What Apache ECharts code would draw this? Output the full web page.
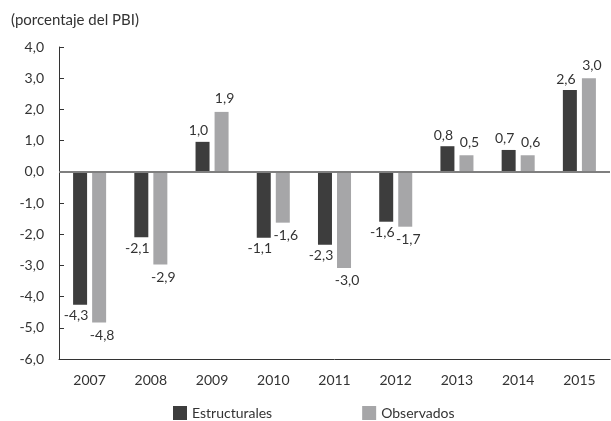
<!DOCTYPE html>
<html><head><meta charset="utf-8">
<script src="https://cdn.jsdelivr.net/npm/echarts@6/dist/echarts.min.js"></script>
<style>html,body{margin:0;padding:0;background:#fff}#c{width:611px;height:421px}</style>
</head><body><div id="c"></div>
<script>
const categories = ['2007','2008','2009','2010','2011','2012','2013','2014','2015'];
const estructurales = [-4.26,-2.1,0.96,-2.11,-2.34,-1.6,0.82,0.7,2.62];
const observados = [-4.83,-2.97,1.92,-1.63,-3.08,-1.76,0.53,0.53,3.0];
const estructuralesLabels = ['-4,3','-2,1','1,0','-1,1','-2,3','-1,6','0,8','0,7','2,6'];
const observadosLabels = ['-4,8','-2,9','1,9','-1,6','-3,0','-1,7','0,5','0,6','3,0'];
const yMin = -6, yMax = 4, yStep = 1;

const font = 'Lato';
const chart = echarts.init(document.getElementById('c'));
function lbl(arr, off, dist){
  return {
    show: true, position: 'outside', fontFamily: font, fontSize: 14, color: '#333',
    distance: dist, offset: off,
    formatter: p => arr[p.dataIndex]
  };
}
chart.setOption({
  animation: false,
  textStyle: {fontFamily: font},
  title: {text: '(porcentaje del PBI)', left: 6, top: 8,
    textStyle: {fontFamily: font, fontSize: 15, fontWeight: 'normal', color: '#333'}},
  grid: {left: 59, right: 1, top: 47, bottom: 62},
  legend: {left: 168, top: 401, itemWidth: 14, itemHeight: 14, itemGap: 90,
    icon: 'rect', textStyle: {fontFamily: font, fontSize: 14, color: '#333'},
    data: ['Estructurales','Observados']},
  xAxis: {type: 'category', data: categories,
    axisLine: {onZero: false, lineStyle: {color: '#333', width: 1}},
    axisTick: {inside: true, length: 5, lineStyle: {color: '#333'}},
    axisLabel: {fontFamily: font, fontSize: 14, color: '#333', margin: 14}},
  yAxis: {type: 'value', min: yMin, max: yMax, interval: yStep,
    axisLine: {show: true, lineStyle: {color: '#333', width: 1}},
    axisTick: {show: true, inside: true, length: 5, lineStyle: {color: '#333'}},
    splitLine: {show: false},
    axisLabel: {fontFamily: font, fontSize: 14, color: '#333', margin: 15,
      formatter: v => v.toFixed(1).replace('.', ',')}},
  series: [
    {name: 'Estructurales', type: 'bar', data: estructurales, barWidth: 14, barGap: '36%',
      itemStyle: {color: '#3d3d3d'}, label: lbl(estructuralesLabels, [-4, 0], 4),
      markLine: {silent: true, symbol: 'none', label: {show: false},
        lineStyle: {color: '#7f7f7f', width: 2, type: 'solid'}, data: [{yAxis: 0}]}},
    {name: 'Observados', type: 'bar', data: observados, barWidth: 14,
      itemStyle: {color: '#a6a6a8'}, label: lbl(observadosLabels, [3, 0], 6)}
  ]
});
</script></body></html>
